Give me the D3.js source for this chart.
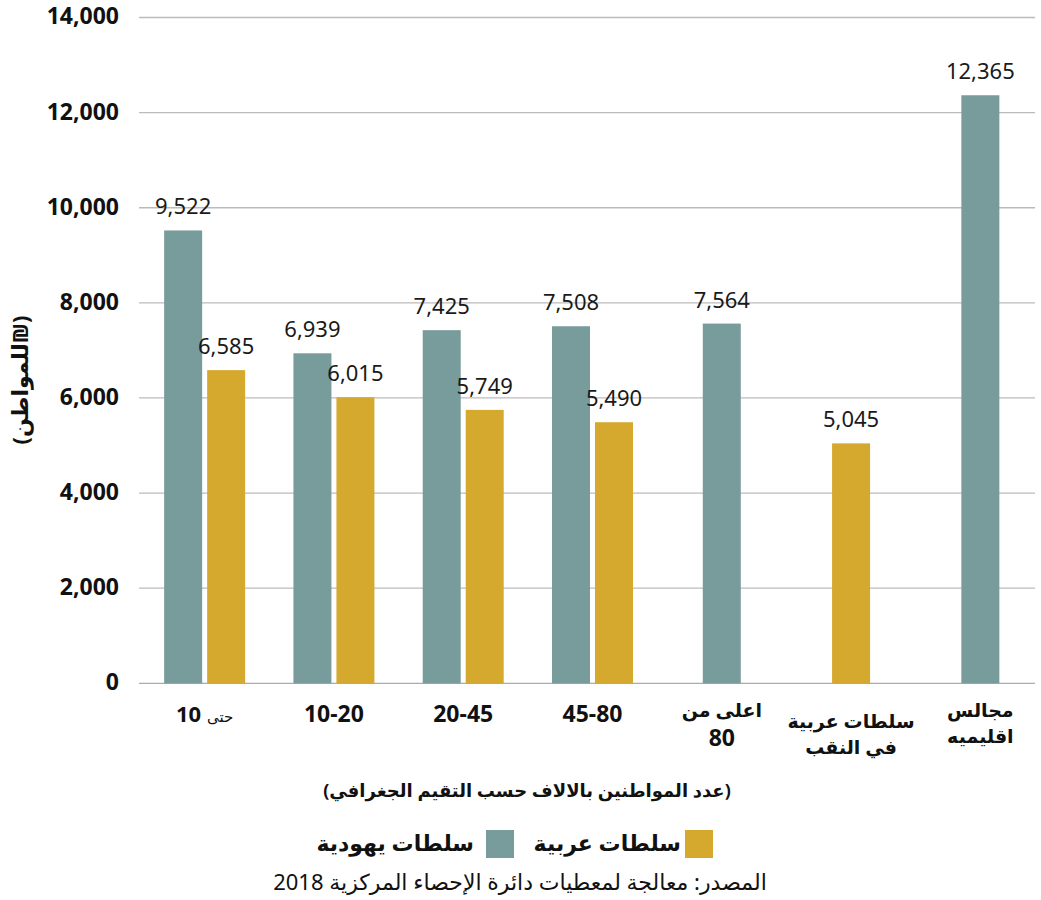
<!DOCTYPE html>
<html><head><meta charset="utf-8">
<script src="https://cdn.jsdelivr.net/npm/d3@7"></script>
<style>
body{margin:0;background:#fff;}
svg{display:block;font-family:"Noto Sans","DejaVu Sans",sans-serif;}
</style></head>
<body><svg id="c" width="1041" height="900"></svg>
<script>
const categories = ["حتى 10","10-20","20-45","45-80","اعلى من 80","سلطات عربية في النقب","مجالس اقليميه"];
const tickLines = [["حتى","10"],["10-20"],["20-45"],["45-80"],["اعلى من","80"],["سلطات عربية","في النقب"],["مجالس","اقليميه"]];
const jewishValues = [9522, 6939, 7425, 7508, 7564, null, 12365];
const arabValues   = [6585, 6015, 5749, 5490, null, 5045, null];
const yTicks = [0, 2000, 4000, 6000, 8000, 10000, 12000, 14000];
const seriesNames = ["سلطات عربية", "سلطات يهودية"];
const yTitle = "(₪للمواطن)";
const xTitle = "(عدد المواطنين بالالاف حسب التقيم الجغرافي)";
const source = "المصدر: معالجة لمعطيات دائرة الإحصاء المركزية 2018";

const teal = "#789B9B", gold = "#D5A92E";
const svg = d3.select("#c");
const y = d3.scaleLinear().domain([0,14000]).range([683.3,17.5]);
const x = d3.scaleBand().domain(categories).range([140,1045]);
const barW = 38, gap = 5;
const fmt = d3.format(",");

// gridlines
svg.append("g").selectAll("line").data(yTicks).join("line")
  .attr("x1",139).attr("x2",1035)
  .attr("y1",d=>y(d)).attr("y2",d=>y(d))
  .attr("stroke",d=>d===0?"#aaa":"#bbb").attr("stroke-width",1.3);
svg.append("g").selectAll("text").data(yTicks).join("text")
  .attr("x",119).attr("y",d=>y(d)).attr("dy","0.3em")
  .attr("text-anchor","end").attr("font-weight","bold").attr("font-size",23).attr("fill","#111")
  .text(d=>fmt(d));

// bars
const bars = [];
categories.forEach((c,i)=>{
  const cx = x(c) + x.bandwidth()/2;
  const j = jewishValues[i], a = arabValues[i];
  if (j!=null && a!=null){
    bars.push({v:j,x:cx-gap/2-barW,col:teal});
    bars.push({v:a,x:cx+gap/2,col:gold});
  } else if (j!=null) bars.push({v:j,x:cx-barW/2,col:teal});
  else if (a!=null) bars.push({v:a,x:cx-barW/2,col:gold});
});
svg.append("g").selectAll("rect").data(bars).join("rect")
  .attr("x",d=>d.x).attr("width",barW)
  .attr("y",d=>y(d.v)).attr("height",d=>y(0)-y(d.v)).attr("fill",d=>d.col);
svg.append("g").selectAll("text").data(bars).join("text")
  .attr("x",d=>d.x+barW/2).attr("y",d=>y(d.v)-16)
  .attr("text-anchor","middle").attr("font-size",22).attr("fill","#1a1a1a")
  .text(d=>fmt(d.v));

// x tick labels
categories.forEach((c,i)=>{
  const cx = x(c) + x.bandwidth()/2;
  const lines = tickLines[i];
  if (i===0){
    const t = svg.append("text").attr("x",cx).attr("y",722).attr("text-anchor","middle")
      .attr("direction","rtl").attr("fill","#111");
    t.append("tspan").attr("font-size",15).text(lines[0]);
    t.append("tspan").attr("font-size",22).attr("font-weight","bold").text(" "+lines[1]);
    return;
  }
  const base = i===5 ? 728 : (lines.length>1 ? 717 : 722);
  lines.forEach((ln,k)=>{
    const isNum = /^[0-9\-]+$/.test(ln);
    svg.append("text").attr("x",cx).attr("y",base+k*(isNum?29:26)).attr("text-anchor","middle")
      .attr("direction","rtl").attr("font-weight","bold").attr("font-size",isNum?23:19).attr("fill","#111")
      .text(ln);
  });
});

// axis titles
svg.append("text").attr("transform","translate(28,380) rotate(-90)")
  .attr("text-anchor","middle").attr("direction","rtl").attr("font-weight","bold")
  .attr("font-size",22).attr("fill","#111").text(yTitle);
svg.append("text").attr("x",527).attr("y",797).attr("text-anchor","middle")
  .attr("direction","rtl").attr("font-weight","bold").attr("font-size",18).attr("fill","#111").text(xTitle);

// legend
const leg = [{name:seriesNames[0],col:gold,sx:685,tx:681},{name:seriesNames[1],col:teal,sx:486,tx:474}];
leg.forEach(l=>{
  svg.append("rect").attr("x",l.sx).attr("y",830).attr("width",28).attr("height",28).attr("fill",l.col);
  svg.append("text").attr("x",l.tx).attr("y",851).attr("text-anchor","start").attr("direction","rtl")
    .attr("font-weight","bold").attr("font-size",22).attr("fill","#111").text(l.name);
});

svg.append("text").attr("x",520).attr("y",890).attr("text-anchor","middle").attr("direction","rtl")
  .attr("font-size",22).attr("fill","#111").text(source);
</script></body></html>
